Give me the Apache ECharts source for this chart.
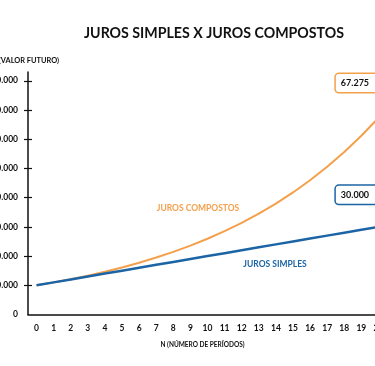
<!DOCTYPE html>
<html>
<head>
<meta charset="utf-8">
<script src="https://cdn.jsdelivr.net/npm/echarts@6/dist/echarts.min.js"></script>
<style>
html,body{margin:0;padding:0;background:#fff;}
#chart{width:375px;height:366px;}
</style>
</head>
<body>
<div id="chart"></div>
<script>
const periods = ['0','1','2','3','4','5','6','7','8','9','10','11','12','13','14','15','16','17','18','19','20'];
const jurosSimples = [10000,11000,12000,13000,14000,15000,16000,17000,18000,19000,20000,21000,22000,23000,24000,25000,26000,27000,28000,29000,30000];
const jurosCompostos = [10000,11000,12100,13310,14641,16105,17716,19487,21436,23579,25937,28531,31384,34523,37975,41772,45950,50545,55599,61159,67275];
const yTicks = [0,10000,20000,30000,40000,50000,60000,70000,80000];
const titleText = 'JUROS SIMPLES X JUROS COMPOSTOS';
const yName = 'VF (VALOR FUTURO)';
const xName = 'N (NÚMERO DE PERÍODOS)';
const labelCompostos = 'JUROS COMPOSTOS';
const labelSimples = 'JUROS SIMPLES';

const BLUE = '#1b64a5';
const ORANGE = '#f4a04b';
const FONT = 'Lato';
const fmt = v => String(v).replace(/\B(?=(\d{3})+(?!\d))/g, '.');

const chart = echarts.init(document.getElementById('chart'), null, {renderer:'canvas'});
const last = periods.length - 1;

function endLabel(color, dist) {
  return {
    show: true, position: 'top', distance: dist, offset: [-20, 0],
    formatter: p => fmt(p.value),
    backgroundColor: '#fff', borderColor: color, borderWidth: 1.5, borderRadius: 3,
    padding: [5, 12, 4, 5], color: '#111', fontFamily: FONT, fontWeight: 'bold', fontSize: 9
  };
}

chart.setOption({
  animation: false,
  backgroundColor: '#fff',
  title: {
    text: titleText, left: 209, top: 21, textAlign: 'center',
    textStyle: {fontFamily: FONT, fontWeight: 'bold', fontSize: 14.2, color: '#111'}
  },
  grid: {left: 28, top: 72, width: 359, height: 242.5, containLabel: false, outerBoundsMode: 'none'},
  xAxis: {
    type: 'category', data: periods, boundaryGap: true,
    axisLine: {lineStyle: {color: '#111', width: 1.5}},
    axisTick: {show: false},
    axisLabel: {color: '#111', fontFamily: FONT, fontWeight: 'bold', fontSize: 8.5, margin: 9, interval: 0},
    name: xName, nameLocation: 'middle', nameGap: 27,
    nameTextStyle: {color: '#111', fontFamily: FONT, fontWeight: 'bold', fontSize: 6.5, padding: [0, 0, 0, -10]},
    splitLine: {show: false}
  },
  yAxis: [{
    type: 'value', min: 0, max: 83000,
    axisLine: {show: true, lineStyle: {color: '#111', width: 1.5}},
    axisTick: {show: true, length: 4, lineStyle: {color: '#111', width: 1.2}, customValues: yTicks.slice(1)},
    axisLabel: {color: '#111', fontFamily: FONT, fontWeight: 'bold', fontSize: 8.5, margin: 10, customValues: yTicks, formatter: v => fmt(v)},
    splitLine: {show: false}
  }, {
    type: 'value', min: 0, max: 83000, position: 'left',
    axisLine: {show: false},
    axisTick: {show: true, inside: true, length: 4, lineStyle: {color: '#111', width: 1.2}, customValues: yTicks.slice(1)},
    axisLabel: {show: false},
    splitLine: {show: false}
  }],
  graphic: [
    {type: 'text', x: 59, y: 61, style: {text: yName, align: 'right', verticalAlign: 'middle', fill: '#111', font: 'bold 7.4px ' + FONT}},
    {type: 'text', x: 198, y: 208, style: {text: labelCompostos, align: 'center', verticalAlign: 'middle', fill: ORANGE, font: 'bold 8.5px ' + FONT}},
    {type: 'text', x: 275, y: 264, style: {text: labelSimples, align: 'center', verticalAlign: 'middle', fill: BLUE, font: 'bold 8.5px ' + FONT}}
  ],
  series: [{
    name: labelSimples, type: 'line', yAxisIndex: 0,
    data: jurosSimples.map((v, i) => i === last ? {value: v, label: endLabel(BLUE, 23)} : v),
    symbol: 'circle', symbolSize: 0, showSymbol: true, lineStyle: {color: BLUE, width: 2.5}, z: 3
  }, {
    name: labelCompostos, type: 'line', yAxisIndex: 0,
    data: jurosCompostos.map((v, i) => i === last ? {value: v, label: endLabel(ORANGE, 26)} : v),
    symbol: 'circle', symbolSize: 0, showSymbol: true, lineStyle: {color: ORANGE, width: 2}, z: 2
  }]
});
</script>
</body>
</html>
